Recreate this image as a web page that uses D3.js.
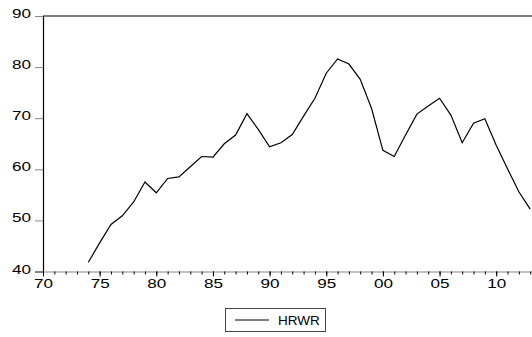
<!DOCTYPE html>
<html><head><meta charset="utf-8">
<script src="https://cdn.jsdelivr.net/npm/d3@7"></script>
<style>body{margin:0;background:#fff}svg{display:block}text{font-family:"Liberation Sans",Arial,sans-serif}</style>
</head><body><svg id="c" width="532" height="337"></svg>
<script>
const years = d3.range(1974, 2014);
const hrwr = [41.8,45.6,49.2,50.9,53.6,57.5,55.4,58.2,58.5,60.5,62.5,62.4,65.0,66.7,70.9,67.8,64.4,65.2,66.8,70.4,73.9,78.8,81.6,80.6,77.6,71.9,63.7,62.5,66.7,70.8,72.4,73.9,70.6,65.2,69.0,69.9,64.7,60.1,55.6,52.2];
const yTicks = [40,50,60,70,80,90];
const xMajor = [1970,1975,1980,1985,1990,1995,2000,2005,2010];
const seriesName = "HRWR";

const svg = d3.select("#c");
const L=43, T=16, B=271.5, R=532;
const x = d3.scaleLinear().domain([1970, 2013.16]).range([L, R]);
const y = d3.scaleLinear().domain([40, 90]).range([B, T]);

// top border
svg.append("line").attr("x1",L).attr("x2",R).attr("y1",T).attr("y2",T).attr("stroke","#000").attr("stroke-width",1.2);

// y axis
const ya = svg.append("g").attr("transform",`translate(${L},0)`)
  .call(d3.axisLeft(y).tickValues(yTicks).tickSize(8).tickPadding(4).tickFormat(d3.format("d")));
ya.select(".domain").attr("stroke","#000").attr("stroke-width",1.2);
ya.selectAll(".tick line").attr("stroke","#888");
ya.selectAll("text").attr("font-size",13).attr("fill","#000").attr("font-family","Liberation Sans, Arial, sans-serif")
  .attr("dy","0.12em").attr("textLength",19).attr("lengthAdjust","spacingAndGlyphs");

// x axis minor ticks
const xa = svg.append("g").attr("transform",`translate(0,${B})`)
  .call(d3.axisBottom(x).tickValues(d3.range(1970,2014)).tickSize(3).tickFormat(""));
xa.select(".domain").attr("stroke","#888").attr("stroke-width",1);
xa.selectAll(".tick line").attr("stroke","#000");
const xb = svg.append("g").attr("transform",`translate(0,${B})`)
  .call(d3.axisBottom(x).tickValues(xMajor).tickSize(5).tickPadding(2).tickFormat(d=>String(d%100).padStart(2,"0")));
xb.select(".domain").remove();
xb.selectAll(".tick line").attr("stroke","#000");
xb.selectAll("text").attr("font-size",13).attr("fill","#000").attr("font-family","Liberation Sans, Arial, sans-serif")
  .attr("textLength",19).attr("lengthAdjust","spacingAndGlyphs");

// line
const line = d3.line().x((d,i)=>x(years[i])).y(d=>y(d));
svg.append("path").datum(hrwr).attr("d",line).attr("fill","none").attr("stroke","#000").attr("stroke-width",1.2);

// legend
const lg = svg.append("g");
lg.append("rect").attr("x",225.5).attr("y",308.5).attr("width",100).attr("height",23).attr("fill","none").attr("stroke","#444").attr("stroke-width",1);
lg.append("line").attr("x1",235).attr("x2",269).attr("y1",320).attr("y2",320).attr("stroke","#000").attr("stroke-width",1);
lg.append("text").attr("x",278).attr("y",325).attr("font-size",13.5).attr("fill","#000").text(seriesName);
</script></body></html>
